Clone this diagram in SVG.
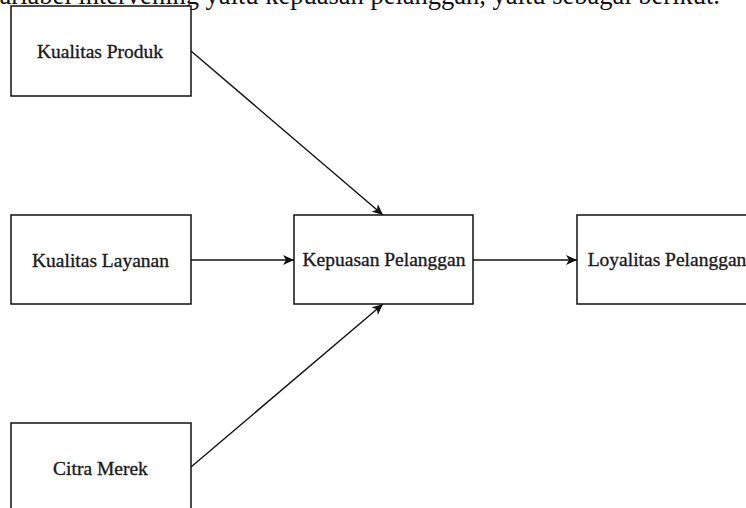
<svg xmlns="http://www.w3.org/2000/svg" width="746" height="508" viewBox="0 0 746 508">
<style>
.box{fill:#fff;stroke:#111;stroke-width:1.5}
.lbl{font-family:"Liberation Serif","Times New Roman",serif;font-size:19.5px;fill:#1a1a1a;stroke:#1a1a1a;stroke-width:0.35;text-anchor:middle}
.edge{stroke:#111;stroke-width:1.4;fill:none}
.top{font-family:"Liberation Serif","Times New Roman",serif;font-size:26.5px;fill:#111;text-anchor:end}
</style>
<defs>
<marker id="ah" markerUnits="userSpaceOnUse" markerWidth="12" markerHeight="10" refX="11" refY="5" orient="auto">
<path d="M0,0 L11,5 L0,10 L3,5 z" fill="#111"/>
</marker>
</defs>
<rect width="746" height="508" fill="#fff"/>
<text class="top" x="720" y="4">variabel intervening yaitu kepuasan pelanggan, yaitu sebagai berikut.</text>
<g id="connectors">
<line class="edge" x1="191" y1="51" x2="383" y2="215" marker-end="url(#ah)"/>
<line class="edge" x1="191" y1="260" x2="294" y2="260" marker-end="url(#ah)"/>
<line class="edge" x1="191" y1="467" x2="383" y2="304" marker-end="url(#ah)"/>
<line class="edge" x1="473" y1="260" x2="577" y2="260" marker-end="url(#ah)"/>
</g>
<g id="kualitas-produk">
<rect class="box" x="11" y="6" width="180" height="90"/>
<text class="lbl" x="100" y="58">Kualitas Produk</text>
</g>
<g id="kualitas-layanan">
<rect class="box" x="11" y="215" width="180" height="89"/>
<text class="lbl" x="100.5" y="266.5">Kualitas Layanan</text>
</g>
<g id="citra-merek">
<rect class="box" x="11" y="423" width="180" height="90"/>
<text class="lbl" x="100.5" y="475">Citra Merek</text>
</g>
<g id="kepuasan-pelanggan">
<rect class="box" x="294" y="215" width="179" height="89"/>
<text class="lbl" x="384" y="266">Kepuasan Pelanggan</text>
</g>
<g id="loyalitas-pelanggan">
<rect class="box" x="577" y="215" width="180" height="89"/>
<text class="lbl" x="667" y="266">Loyalitas Pelanggan</text>
</g>
</svg>
